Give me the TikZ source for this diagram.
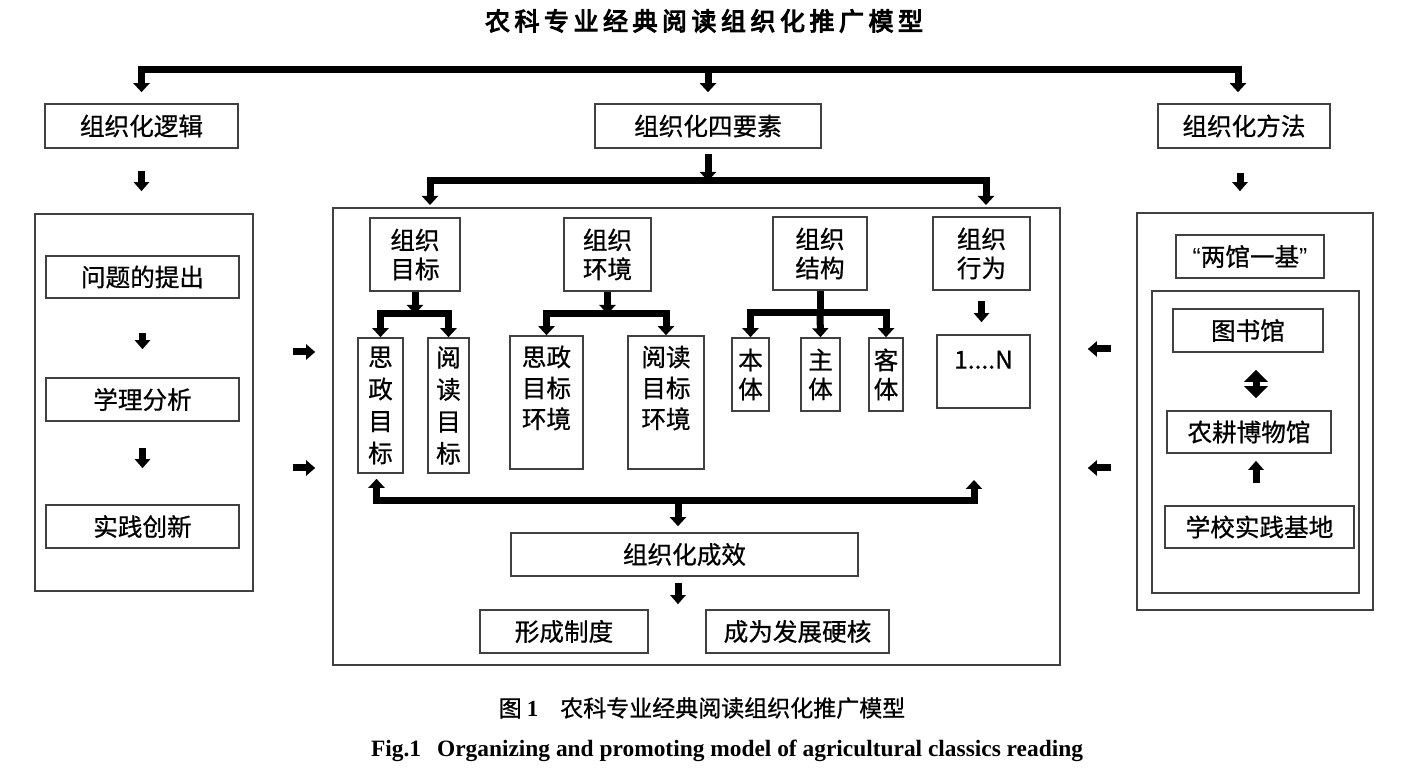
\documentclass[tikz,border=0pt]{standalone}
\usepackage{fontspec}
\setmainfont{Noto Sans CJK SC}[FakeBold=0.7]
\newfontfamily\titlefont{Noto Sans CJK SC}[FakeBold=4,LetterSpace=18]
\newfontfamily\capfont{Noto Sans CJK SC}[FakeBold=0.8]
\newfontfamily\timesfont{Liberation Serif}
\newfontfamily\latinq{Liberation Sans}
\usetikzlibrary{arrows.meta}
\tikzset{
  boxs/.style={draw=black!75, line width=0.8pt, inner sep=0pt, align=center,
    font=\fontsize{12.3}{14.5}\selectfont},
  vbox/.style={boxs, font=\fontsize{12.3}{16}\selectfont},
  txt/.style={inner sep=0pt, align=center, font=\fontsize{12.3}{15.5}\selectfont},
  bus/.style={line width=3.5pt, line join=miter},
  btip/.tip={Triangle[width=8pt,length=4.5pt]},
  sarrow/.style={line width=3.5pt, -{Triangle[width=7.5pt,length=4.5pt]}},
  darrow/.style={line width=3.5pt, {Triangle[width=11.5pt,length=6pt]}-{Triangle[width=11.5pt,length=6pt]}},
}
\newcommand\bx[7][]{\node[boxs,#1,minimum width={(#5-#3)*0.5pt},minimum height={(#6-#4)*0.5pt}] (#2) at ({(#3+#5)/2},{(#4+#6)/2}) {#7};}
\begin{document}
\begin{tikzpicture}[x=0.5pt,y=-0.5pt]
\fill[white] (0,0) rectangle (1404,769);
\useasboundingbox (0,0) rectangle (1404,769);

% title
\node[inner sep=0pt, font={\titlefont\fontsize{12.5}{14}\selectfont}] (title) at (704,21) {农科专业经典阅读组织化推广模型};

% top row
\bx{logic}{45}{104}{238}{148}{组织化逻辑}
\bx{four}{595}{104}{821}{148}{组织化四要素}
\bx{method}{1158}{104}{1330}{148}{组织化方法}

% left column
\bx{leftouter}{35}{214}{253}{591}{}
\bx{q1}{46}{256}{239}{298}{问题的提出}
\bx{q2}{46}{378}{239}{421}{学理分析}
\bx{q3}{46}{505}{239}{548}{实践创新}

% centre
\bx{mid}{333}{208}{1060}{665}{}
\bx{goal}{370}{218}{460}{291}{组织\\目标}
\bx{env}{564}{218}{651}{291}{组织\\环境}
\bx{struc}{773}{217}{867}{290}{组织\\结构}
\bx{behav}{933}{217}{1030}{290}{组织\\行为}
\bx[vbox]{g1}{358}{338}{403}{473}{思\\政\\目\\标}
\bx[vbox]{g2}{428}{338}{469}{473}{阅\\读\\目\\标}
\bx{e1}{510}{336}{583}{469}{}
\bx{e2}{628}{336}{704}{469}{}
\node[txt, anchor=north] (e1t) at ([yshift=-5pt]e1.north) {思政\\目标\\环境};
\node[txt, anchor=north] (e2t) at ([yshift=-5pt]e2.north) {阅读\\目标\\环境};
\bx{s1}{732}{338}{769}{411}{本\\体}
\bx{s2}{801}{338}{840}{411}{主\\体}
\bx{s3}{869}{338}{903}{411}{客\\体}
\bx{n}{937}{335}{1030}{408}{}
\node[txt, anchor=north] (nt) at ([yshift=-8pt]n.north) {1....N};
\bx{eff}{511}{533}{858}{576}{组织化成效}
\bx{r1}{480}{610}{648}{653}{形成制度}
\bx{r2}{706}{610}{889}{653}{成为发展硬核}

% right column
\bx{rightouter}{1137}{213}{1373}{610}{}
\bx{lg}{1176}{235}{1324}{278}{{\latinq “}两馆一基{\latinq ”}}
\bx[line width=1pt]{inner}{1152}{291}{1359}{593}{}
\bx{lib}{1173}{309}{1323}{352}{图书馆}
\bx{mus}{1167}{411}{1331}{453}{农耕博物馆}
\bx{base}{1165}{506}{1354}{548}{学校实践基地}

% top bus
\coordinate (topbus) at (708,70);
\draw[bus,{btip}-{btip}] ([yshift=5.5pt]logic.north) |- (topbus) -| ([shift={(-3pt,5.5pt)}]method.north);
\draw[bus,-{btip}] (topbus) -- ([yshift=5.5pt]four.north);

% arrows below logic / method
\draw[sarrow, shorten <=11pt, shorten >=11pt] (logic.south) -- (logic.south |- leftouter.north);
\draw[sarrow, shorten <=12pt, shorten >=10.5pt] ([xshift=-2pt]method.south) -- ([xshift=-2pt]method.south |- rightouter.north);

% second bus
\coordinate (midbus) at (708,181);
\coordinate (mbL) at (430,205);
\coordinate (mbR) at (986,205);
\draw[bus,-{btip}] ([yshift=-2.5pt]four.south) -- (four.south |- midbus);
\draw[bus,{btip}-{btip}] (mbL) |- (midbus) -| (mbR);

% sub-branches
\coordinate (gb) at (415,314);
\draw[bus,-{btip}] (goal.south) -- (goal.south |- gb);
\draw[bus,{btip}-{btip}] (g1.north) |- (gb) -| (g2.north);
\coordinate (eb) at (607.5,314);
\draw[bus,-{btip}] (env.south) -- (env.south |- eb);
\draw[bus,{btip}-{btip}] (e1.north) |- (eb) -| (e2.north);
\coordinate (sb) at (820,313);
\draw[bus] (struc.south) -- (struc.south |- sb);
\draw[bus,{btip}-{btip}] (s1.north) |- (sb) -| (s3.north);
\draw[bus,-{btip}] (struc.south |- sb) -- (s2.north);
\draw[sarrow, shorten <=5pt, shorten >=6pt] (behav.south) -- (behav.south |- n.north);

% left arrows into centre
\draw[sarrow, shorten <=19.5pt, shorten >=8.5pt] (leftouter.east |- 0,352) -- (mid.west |- 0,352);
\draw[sarrow, shorten <=19.5pt, shorten >=8.5pt] (leftouter.east |- 0,468) -- (mid.west |- 0,468);
% right arrows into centre
\draw[sarrow, shorten <=12.5pt, shorten >=13.5pt] (rightouter.west |- 0,349) -- (mid.east |- 0,349);
\draw[sarrow, shorten <=12.5pt, shorten >=13.5pt] (rightouter.west |- 0,468) -- (mid.east |- 0,468);

% left column arrows
\draw[sarrow, shorten <=17pt, shorten >=14pt] (q1.south) -- (q2.north);
\draw[sarrow, shorten <=13pt, shorten >=18pt] (q2.south) -- (q3.north);

% bottom bus
\coordinate (bb) at (678,501);
\coordinate (bR) at (974,480);
\draw[bus,{btip}-{btip}] ([xshift=-2pt,yshift=-2.5pt]g1.south) |- (bb) -| (bR);
\draw[bus,-{btip}, shorten >=3pt] (bb) -- (bb |- eff.north);
\draw[sarrow, shorten <=3pt, shorten >=2.5pt] (bb |- eff.south) -- (bb |- r1.north);

% right column arrows
\draw[darrow, shorten <=8.5pt, shorten >=6pt] (lib.south -| 1256,0) -- (mus.north -| 1256,0);
\draw[sarrow, shorten <=11pt, shorten >=3.5pt] (base.north -| 1256,0) -- (mus.south -| 1256,0);

% captions
\node[inner sep=0pt] (cap1) at (702,708) {{\capfont\fontsize{11.5}{13}\selectfont 图}\hspace{2.5pt}{\timesfont\bfseries\fontsize{11.5}{13}\selectfont 1}\hspace{11pt}{\capfont\fontsize{11.5}{13}\selectfont 农科专业经典阅读组织化推广模型}};
\node[inner sep=0pt] (cap2) at (727,751) {\timesfont\bfseries\fontsize{11.7}{13}\selectfont Fig.1\hspace{8pt}Organizing and promoting model of agricultural classics reading};
\end{tikzpicture}
\end{document}
